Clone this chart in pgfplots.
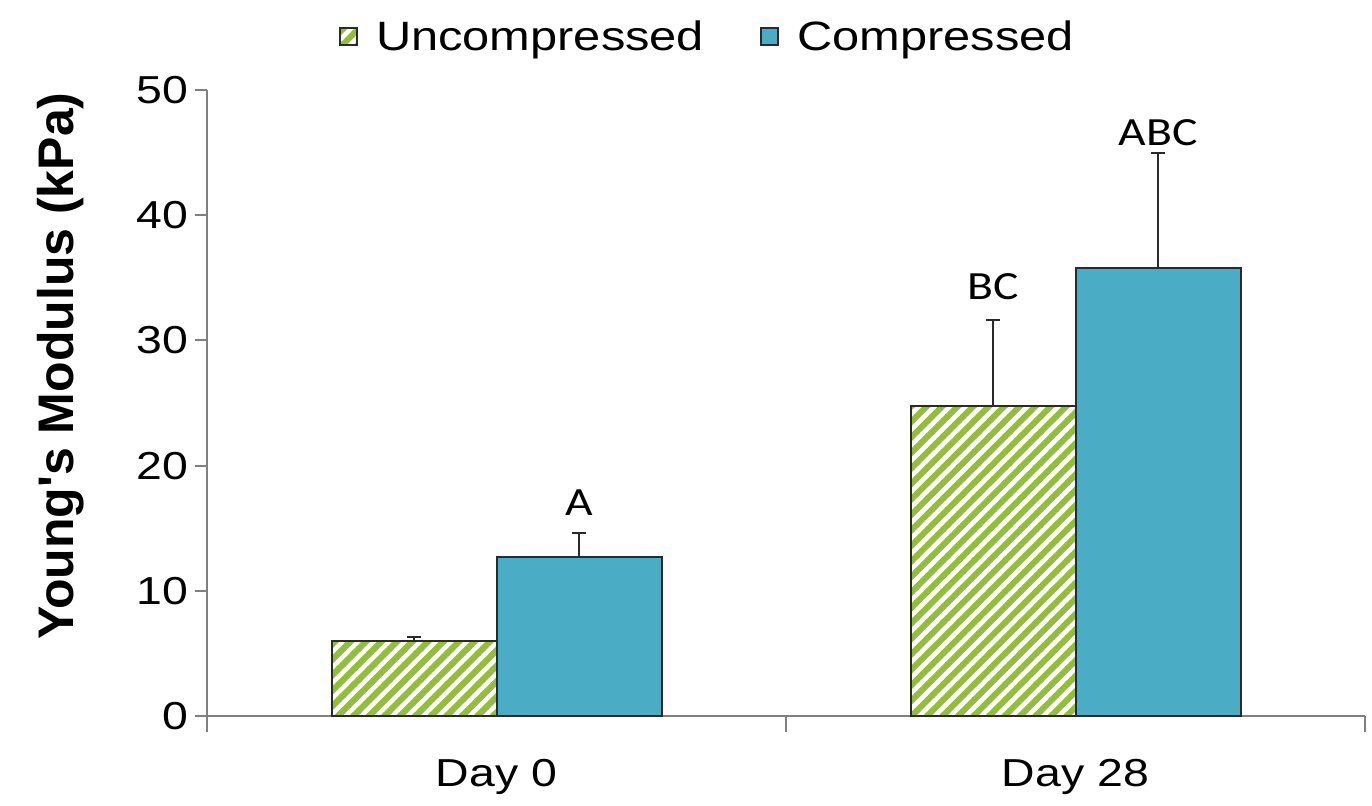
\documentclass[border=0pt]{standalone}
\usepackage{fontspec}
\setmainfont{Liberation Sans}[FakeStretch=1.19]
\newfontfamily\ylabfont{Liberation Sans}
\newfontfamily\calfont{Carlito}[FakeStretch=1.19]
\usepackage{pgfplots}
\pgfplotsset{compat=1.18}
\usetikzlibrary{patterns.meta}
\definecolor{cblue}{HTML}{4BACC6}
\definecolor{cgreen}{HTML}{93BE3C}
\definecolor{axgray}{HTML}{808080}
\definecolor{edge}{HTML}{2A2A2A}
\tikzdeclarepattern{
  name=wstripes,
  type=uncolored,
  bottom left={(-0.15pt,-0.15pt)},
  top right={(7.9pt,7.9pt)},
  tile size={(7.75pt,7.75pt)},
  code={
    % band x - y = c +- 2.13pt, for c = 0, 7.75, -7.75
    \pgfpathmoveto{\pgfpoint{-3.13pt}{-1pt}}
    \pgfpathlineto{\pgfpoint{1.13pt}{-1pt}}
    \pgfpathlineto{\pgfpoint{11.13pt}{9pt}}
    \pgfpathlineto{\pgfpoint{6.87pt}{9pt}}
    \pgfpathclose
    \pgfpathmoveto{\pgfpoint{4.62pt}{-1pt}}
    \pgfpathlineto{\pgfpoint{8.88pt}{-1pt}}
    \pgfpathlineto{\pgfpoint{18.88pt}{9pt}}
    \pgfpathlineto{\pgfpoint{14.62pt}{9pt}}
    \pgfpathclose
    \pgfpathmoveto{\pgfpoint{-10.88pt}{-1pt}}
    \pgfpathlineto{\pgfpoint{-6.62pt}{-1pt}}
    \pgfpathlineto{\pgfpoint{3.38pt}{9pt}}
    \pgfpathlineto{\pgfpoint{-0.88pt}{9pt}}
    \pgfpathclose
    \pgfusepath{fill}
  }
}
\begin{document}
\begin{tikzpicture}
\begin{axis}[
  scale only axis,
  width=579pt, height=313pt,
  xmin=-0.5, xmax=1.5,
  ymin=0, ymax=50,
  ytick={0,10,20,30,40,50},
  xtick={0,1},
  xticklabels={Day 0, Day 28},
  minor xtick={-0.5,0.5,1.5},
  axis x line=bottom, axis y line=left,
  axis line style={-, draw=axgray, line width=1.3pt},
  tick align=outside,
  major tick length=6pt,
  minor tick length=8pt,
  major x tick style={draw=none},
  minor x tick style={draw=axgray, line width=1pt},
  major y tick style={draw=axgray, line width=1pt},
  /pgf/number format/assume math mode=true,
  tick label style={font=\fontsize{19.5}{23}\selectfont},
  xticklabel style={yshift=-12pt},
  ylabel={\ylabfont\bfseries Young's Modulus (kPa)},
  ylabel style={font=\fontsize{25}{29}\selectfont,
    at={(axis description cs:-0.126,0.559)}, anchor=center, rotate=0},
  ybar=0pt,
  bar width=82.5pt,
  legend style={at={(axis description cs:0.433,1.085)}, anchor=center,
    draw=none, fill=none, font=\fontsize{20.5}{24}\selectfont,
    legend columns=2,
    /tikz/every odd column/.append style={column sep=7pt},
    /tikz/every even column/.append style={column sep=26pt}},
  legend image code/.code={\draw[#1] (0pt,-4.25pt) rectangle (8.5pt,4.25pt);},
  error bars/y dir=plus,
  error bars/y explicit,
  error bars/error bar style={draw=edge, line width=1pt},
  error bars/error mark options={rotate=90, mark size=3.5pt, draw=edge, line width=1pt},
  clip=false,
]
\addplot[draw=edge, line width=1pt, pattern=wstripes, pattern color=cgreen]
  coordinates {(0,6.0) +- (0,0.3) (1,24.8) +- (0,6.8)};
\addplot[draw=edge, line width=1pt, fill=cblue]
  coordinates {(0,12.7) +- (0,1.9) (1,35.8) +- (0,9.2)};
\legend{Uncompressed, Compressed}
\node[font=\calfont\fontsize{20}{24}\selectfont] at (axis cs:0.1425,17.0) {A};
\node[font=\calfont\fontsize{20}{24}\selectfont] at (axis cs:0.8575,34.3) {BC};
\node[font=\calfont\fontsize{20}{24}\selectfont] at (axis cs:1.1425,46.6) {ABC};
\coordinate (bl) at (axis description cs:-0.17876,-0.14377);
\coordinate (tr) at (axis description cs:1.006045,1.14377);
\end{axis}
\pgfresetboundingbox
\path (bl) rectangle (tr);
\end{tikzpicture}
\end{document}
